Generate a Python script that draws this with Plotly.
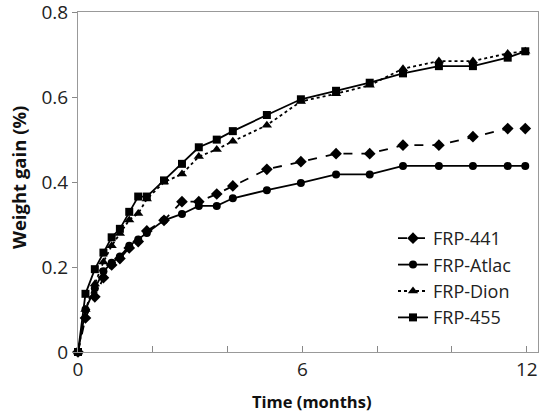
import plotly.graph_objects as go

time_months = [0, 0.2, 0.45, 0.68, 0.9, 1.12, 1.37, 1.61, 1.84, 2.30, 2.78, 3.23, 3.71,
               4.14, 5.05, 5.96, 6.9, 7.8, 8.69, 9.65, 10.56, 11.49, 11.96]

frp_441 = [0, 0.08, 0.13, 0.175, 0.205, 0.22, 0.245, 0.26, 0.285, 0.31, 0.354, 0.354, 0.372,
           0.391, 0.43, 0.448, 0.467, 0.467, 0.487, 0.487, 0.507, 0.526, 0.526]
frp_atlac = [0, 0.10, 0.15, 0.19, 0.21, 0.225, 0.25, 0.265, 0.28, 0.31, 0.325, 0.344, 0.344,
             0.362, 0.381, 0.398, 0.418, 0.418, 0.438, 0.438, 0.438, 0.438, 0.438]
frp_dion = [0, 0.10, 0.16, 0.212, 0.25, 0.279, 0.311, 0.326, 0.36, 0.40, 0.419, 0.46, 0.477,
            0.496, 0.534, 0.59, 0.608, 0.628, 0.667, 0.685, 0.685, 0.703, 0.708]
frp_455 = [0, 0.137, 0.195, 0.234, 0.27, 0.29, 0.33, 0.366, 0.366, 0.404, 0.443, 0.482, 0.50,
           0.52, 0.558, 0.595, 0.615, 0.634, 0.656, 0.673, 0.673, 0.693, 0.708]

series_names = ["FRP-441", "FRP-Atlac", "FRP-Dion", "FRP-455"]
x_tick_vals = [0, 2, 4, 6, 8, 10, 12]
x_tick_text = ["0", "", "", "6", "", "", "12"]
y_tick_vals = [0, 0.2, 0.4, 0.6, 0.8]
y_tick_text = ["0", "0.2", "0.4", "0.6", "0.8"]

styles = [
    dict(dash="dash", symbol="diamond", size=9),
    dict(dash="solid", symbol="circle", size=8),
    dict(dash="dot", symbol="triangle-up", size=9),
    dict(dash="solid", symbol="square", size=8),
]

fig = go.Figure()
for name, ys, st in zip(series_names, [frp_441, frp_atlac, frp_dion, frp_455], styles):
    fig.add_trace(go.Scatter(
        x=time_months, y=ys, name=name, mode="lines+markers",
        line=dict(color="black", width=1.8, dash=st["dash"]),
        marker=dict(color="black", symbol=st["symbol"], size=st["size"]),
        cliponaxis=False,
    ))

W, H = 539, 416
ML, MR, MT, MB = 78, 1, 12, 64
plot_w = W - ML - MR
plot_h = H - MT - MB


def px_x(px):
    return (px - ML) / plot_w


def px_y(py):
    return (H - MB - py) / plot_h


FONT = "Open Sans, Liberation Sans, Arial, sans-serif"
fig.update_layout(
    width=W, height=H,
    margin=dict(l=ML, r=MR, t=MT, b=MB),
    paper_bgcolor="white", plot_bgcolor="white",
    font=dict(family=FONT, size=19, color="#222"),
    showlegend=True,
    legend=dict(x=px_x(393), y=px_y(220), xanchor="left", yanchor="top",
                bgcolor="rgba(255,255,255,0)", font=dict(size=18),
                tracegroupgap=0, itemwidth=30),
    xaxis=dict(range=[0, 12.3], tickmode="array", tickvals=x_tick_vals, ticktext=x_tick_text,
               ticks="inside", ticklen=6, tickcolor="#888", showgrid=False, zeroline=False,
               showline=True, linecolor="#999", linewidth=1, mirror=True, automargin=False,
               ticklabeloverflow="allow", tickfont=dict(size=19)),
    yaxis=dict(range=[0, 0.8005], tickmode="array", tickvals=y_tick_vals, ticktext=y_tick_text,
               ticks="outside", ticklen=5, tickcolor="#888", showgrid=False, zeroline=False,
               showline=True, linecolor="#999", linewidth=1, mirror=True, automargin=False,
               ticklabeloverflow="allow", tickfont=dict(size=19)),
    annotations=[
        dict(text="<b>Time (months)</b>", x=px_x(311), y=px_y(401), xref="paper", yref="paper",
             xanchor="center", yanchor="middle", showarrow=False,
             font=dict(size=16.5, color="#111")),
        dict(text="<b>Weight gain (%)</b>", textangle=-90, x=px_x(18), y=px_y(178),
             xref="paper", yref="paper", xanchor="center", yanchor="middle", showarrow=False,
             font=dict(size=18.5, color="#111")),
    ],
)

fig.write_html("out.html", config={"displayModeBar": False},
               post_script="document.body.style.margin='0';document.body.style.overflow='hidden';")
